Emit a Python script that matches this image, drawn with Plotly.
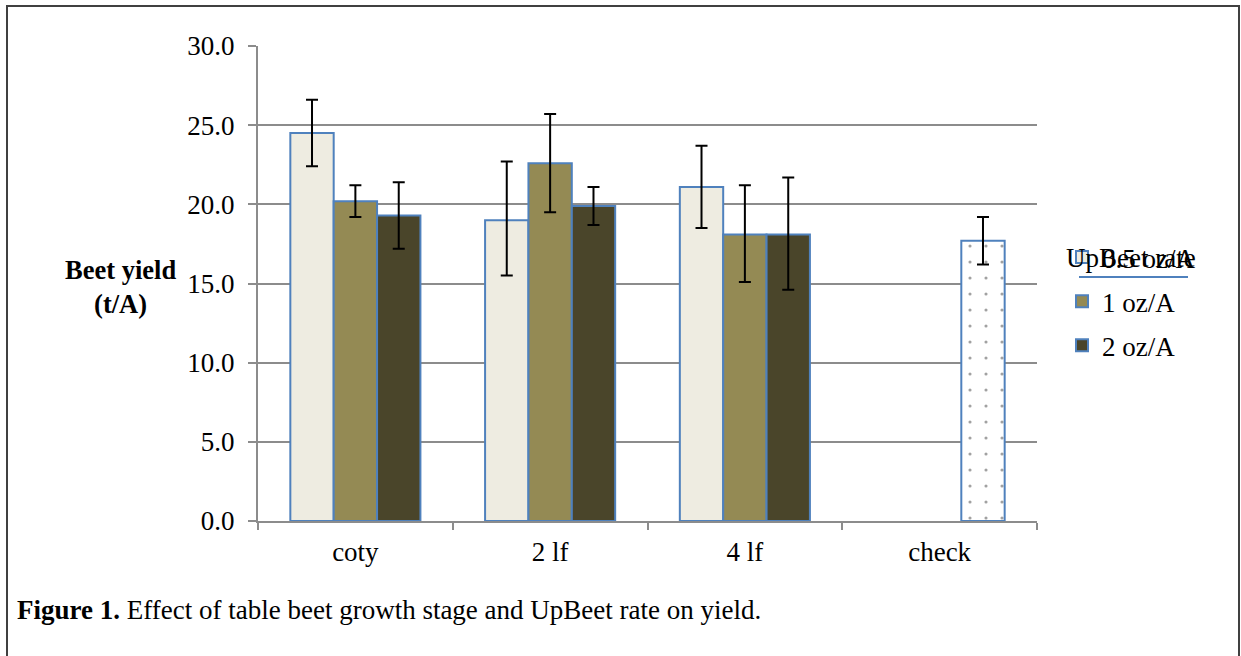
import plotly.graph_objects as go

categories = ["coty", "2 lf", "4 lf", "check"]
series_names = ["0.5 oz/A", "1 oz/A", "2 oz/A"]

# Yields (t/A); check value sits in the third slot of the 'check' group
yield_05 = [24.5, 19.0, 21.1, None]
yield_1 = [20.2, 22.6, 18.1, None]
yield_2 = [19.3, 19.9, 18.1, 17.7]

# Error bar ends (upper and lower)
upper_05 = [26.6, 22.7, 23.7, None]
lower_05 = [22.4, 15.5, 18.5, None]
upper_1 = [21.2, 25.7, 21.2, None]
lower_1 = [19.2, 19.5, 15.1, None]
upper_2 = [21.4, 21.1, 21.7, 19.2]
lower_2 = [17.2, 18.7, 14.6, 16.2]

y_ticks = [0, 5, 10, 15, 20, 25, 30]

FONT = "Liberation Serif, Times New Roman, serif"
FS = 27
BLUE = "#4F81BD"
GRID = "#8C8C8C"

# plot-area pixel geometry (used to place paper-referenced decorations)
L, R, T, B = 258, 1037, 46, 521


def px(xp):
    return (xp - L) / (R - L)


def py(yp):
    return (B - yp) / (B - T)


def err(vals, up, lo):
    plus = [None if v is None else u - v for v, u in zip(vals, up)]
    minus = [None if v is None else v - l for v, l in zip(vals, lo)]
    return dict(type="data", symmetric=False, array=plus, arrayminus=minus,
                color="black", thickness=2, width=6)


fig = go.Figure()
fig.add_trace(go.Bar(
    name=series_names[0], x=categories, y=yield_05,
    marker=dict(color="#EEECE1", line=dict(color=BLUE, width=2)),
    error_y=err(yield_05, upper_05, lower_05), legendgroup="a"))
fig.add_trace(go.Bar(
    name=series_names[1], x=categories, y=yield_1,
    marker=dict(color="#948A54", line=dict(color=BLUE, width=2)),
    error_y=err(yield_1, upper_1, lower_1), legendgroup="b"))
fig.add_trace(go.Bar(
    name=series_names[2], x=categories, y=yield_2,
    marker=dict(color=["#4A452A", "#4A452A", "#4A452A", "white"],
                line=dict(color=BLUE, width=2),
                pattern=dict(shape=["", "", "", "."], fgcolor="#2E2B1C",
                             size=16, solidity=0.03)),
    error_y=err(yield_2, upper_2, lower_2), legendgroup="c"))

fig.update_layout(
    width=1241, height=656,
    margin=dict(l=L, r=1241 - R, t=T, b=656 - B, autoexpand=False),
    paper_bgcolor="white", plot_bgcolor="white",
    barmode="group", bargap=0.332, bargroupgap=0,
    font=dict(family=FONT, size=FS, color="black"),
    showlegend=True,
    legend=dict(x=px(1062), y=py(233), xanchor="left", yanchor="top",
                font=dict(family=FONT, size=FS), tracegroupgap=6,
                itemwidth=30, bgcolor="rgba(0,0,0,0)"),
    xaxis=dict(showline=True, linecolor=GRID, linewidth=2,
               ticks="outside", tickson="boundaries", ticklen=7,
               tickcolor=GRID, tickwidth=2, ticklabelstandoff=6,
               tickfont=dict(family=FONT, size=FS), showgrid=False),
    yaxis=dict(range=[0, 30], tickvals=y_ticks, tickformat=".1f",
               showline=True, linecolor=GRID, linewidth=2,
               ticks="outside", ticklen=8, tickcolor=GRID, tickwidth=2,
               showgrid=True, gridcolor=GRID, gridwidth=2,
               zeroline=False, ticklabelstandoff=8,
               tickfont=dict(family=FONT, size=FS)),
)

# Outer frame
fig.add_shape(type="rect", xref="paper", yref="paper",
              x0=px(7), x1=px(1239), y0=py(700), y1=py(6),
              line=dict(color="#404040", width=2), layer="below")

# Y-axis title
fig.add_annotation(text="<b>Beet yield<br>(t/A)</b>", xref="paper", yref="paper",
                   x=px(120), y=py(287), xanchor="center", yanchor="middle",
                   showarrow=False, align="center",
                   font=dict(family=FONT, size=26.5))

# Legend title (overlapping as in the original) with its underline
fig.add_annotation(text="UpBeet rate", xref="paper", yref="paper",
                   x=px(1064), y=py(258), xanchor="left", yanchor="middle",
                   showarrow=False, font=dict(family=FONT, size=FS))
fig.add_shape(type="line", xref="paper", yref="paper",
              x0=px(1079), x1=px(1188), y0=py(277), y1=py(277),
              line=dict(color=BLUE, width=2))

# Caption
fig.add_annotation(text="<b>Figure 1.</b> Effect of table beet growth stage and UpBeet rate on yield.",
                   xref="paper", yref="paper", x=px(15), y=py(610),
                   xanchor="left", yanchor="middle", showarrow=False,
                   font=dict(family=FONT, size=FS))

fig.write_html("out.html", config={"displayModeBar": False},
               post_script="document.body.style.margin='0';document.body.style.padding='0';")
